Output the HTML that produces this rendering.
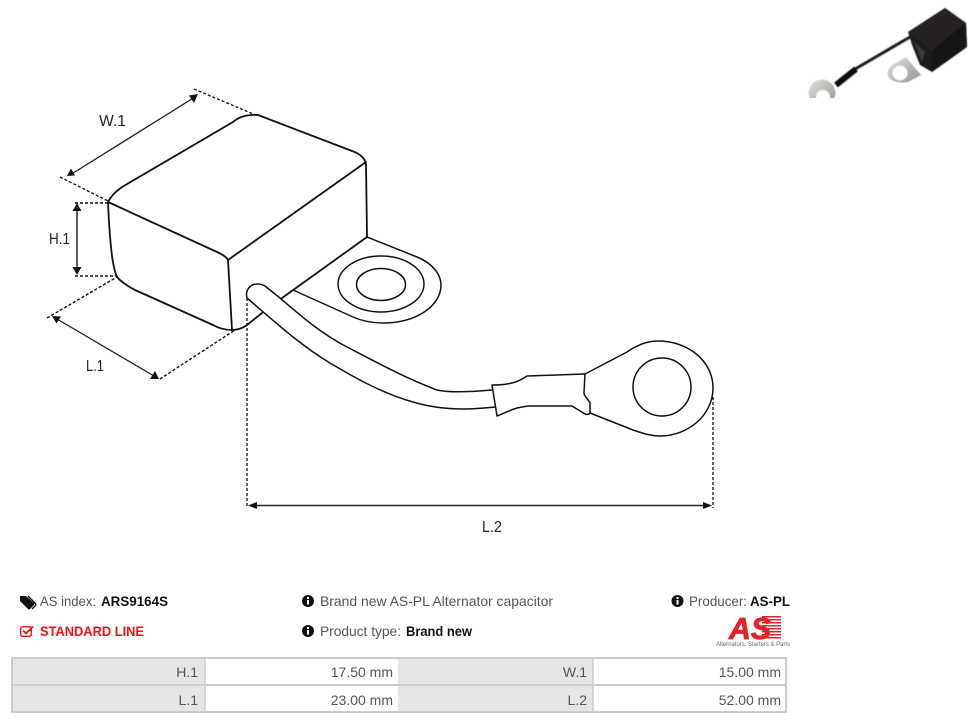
<!DOCTYPE html>
<html><head><meta charset="utf-8">
<style>
html,body{margin:0;padding:0;background:#fff;width:976px;height:724px;overflow:hidden}
svg{position:absolute;left:0;top:0}
</style></head>
<body>
<svg width="976" height="724" viewBox="0 0 976 724" xmlns="http://www.w3.org/2000/svg">
<defs>
<linearGradient id="met" x1="0" y1="0" x2="1" y2="1"><stop offset="0" stop-color="#e2e5e0"/><stop offset="1" stop-color="#8f948d"/></linearGradient>
<clipPath id="cp"><rect x="800" y="0" width="176" height="98"/></clipPath>
<filter id="bl" x="-5%" y="-5%" width="110%" height="110%"><feGaussianBlur stdDeviation="0.6"/></filter>
</defs>
<!-- photo -->
<g clip-path="url(#cp)"><g filter="url(#bl)">
<path d="M906 57L892 65Q885 72 889 78Q895 84 908 82L921 75Z" fill="url(#met)"/>
<circle cx="900" cy="73" r="7.500" fill="#fff"/>
<circle cx="822" cy="93" r="13.500" fill="url(#met)"/>
<circle cx="823" cy="97" r="7" fill="#fff"/>
<path d="M910 37L850 72" stroke="#1a1a1a" stroke-width="3" fill="none"/>
<path d="M856 69L836 85" stroke="#111" stroke-width="6" fill="none"/>
<path d="M908 32L945 8L966 23L967 47L932 72L920 65L912 45Z" fill="#1e1d1d"/>
<path d="M908 32L945 8L966 23L932 50Z" fill="#262424"/>
<path d="M932 50L966 23L967 47L932 72Z" fill="#161515"/>
<path d="M914 42L925 52L922 62Z" fill="#3a3a3a"/>
</g></g>
<!-- box -->
<g fill="none" stroke="#111" stroke-width="1.800" stroke-linejoin="round" stroke-linecap="round">
<path d="M108 202Q112 194 122 187L233 122Q242 114 258 115L352 151Q364 155 366 164L367 237"/>
<path d="M108 202L217 252Q226 256 228 260L366 162"/>
<path d="M108 202Q109 228 111 247Q113 268 117 277Q122 283 135 290L213 325Q222 330 232 330"/>
<path d="M228 260L232 330Q240 330 247 325L262 313"/>
<path d="M282 298L367 237"/>
</g>
<g fill="none" stroke="#111" stroke-width="1.500" stroke-linejoin="round">
<path d="M367 237L417 257C432 263 441 274 441 285C441 306 416 323 383 323C372 323 362 321 353 317L293 290"/>
<ellipse cx="381" cy="284" rx="43" ry="28"/>
<ellipse cx="381" cy="284.500" rx="24.500" ry="16"/>
<path d="M247 298C245 290 250 284 258 284C261 284 263 285 265 286L280 298C300 315 320 333 347 347C374 361 405 378 437 390C450 393 470 392 492 390"/>
<path d="M247 298C275 322 300 345 330 363C360 381 385 394 413 402C430 407 445 409 463 409C475 409 485 408 495 407"/>
<path d="M492 385L497 416C505 413 510 410 517 408C522 407 526 406 530 406L572 406L585 414C588 415 590 414 590 412L590 403C588 399 584 396 584 393L585 374L527 376C520 381 514 383 507 384C502 385 497 385 492 385Z"/>
<path d="M585 374L627 352C637 345 647 341 658 341C688 341 713 361 713 388C713 415 688 436 660 436C650 436 642 433 633 430L590 413"/>
<circle cx="662" cy="387" r="29"/>
</g>
<!-- dimensions -->
<g fill="none" stroke="#111" stroke-width="1.300" stroke-dasharray="3 2">
<path d="M60 177L108 201"/><path d="M194 89L258 116"/>
<path d="M75 203L108 203" stroke-width="1.500"/><path d="M75 276L117 276" stroke-width="1.500"/>
<path d="M47 318L117 277" stroke-width="1.400"/><path d="M160 379L235 330" stroke-width="1.400"/>
<path d="M247 298L247 508"/><path d="M713 397L713 508"/>
</g>
<g stroke="#222" stroke-width="1.300" fill="none">
<path d="M70 175L195 97"/><path d="M77 208L77 272" stroke-width="1.500"/><path d="M57 319L154 376"/><path d="M252 505.500L708 505.500" stroke-width="1.500"/>
</g>
<g fill="#111">
<path d="M67 176L75 175.500L71 168.500Z"/><path d="M198 94L189 95.500L194 103Z"/>
<path d="M77 203L72.500 211L81.500 211Z"/><path d="M77 275L72.500 267L81.500 267Z"/>
<path d="M52 316L61 316.500L56.500 323.500Z"/><path d="M159 379L150 379L155 371Z"/>
<path d="M248 505.500L257 502L257 509Z"/><path d="M712 505.500L703 502L703 509Z"/>
</g>
<g font-family="'Liberation Sans',sans-serif" font-size="16" fill="#222">
<text x="99" y="126" textLength="27" lengthAdjust="spacingAndGlyphs">W.1</text>
<text x="49" y="244" textLength="21" lengthAdjust="spacingAndGlyphs">H.1</text>
<text x="86" y="371" textLength="18" lengthAdjust="spacingAndGlyphs">L.1</text>
<text x="482" y="532" textLength="20" lengthAdjust="spacingAndGlyphs">L.2</text>
</g>
<!-- info rows -->
<g font-family="'Liberation Sans',sans-serif" font-size="14" fill="#555">
<path d="M20 596h6l8 7q1 1 0 2l-4 4q-1 1-2 0l-8-8v-5Z" fill="#111"/>
<path d="M28 596l7 7q1.500 1.500 0 3l-3 3" fill="none" stroke="#111" stroke-width="1.300"/>
<text x="40" y="606" textLength="56" lengthAdjust="spacingAndGlyphs">AS index:</text>
<text x="101" y="606" font-weight="700" fill="#111" textLength="67" lengthAdjust="spacingAndGlyphs">ARS9164S</text>
<rect x="20.700" y="626.700" width="10.600" height="9.600" rx="2" fill="none" stroke="#f01010" stroke-width="1.400"/>
<path d="M23 630.500L26 633.500L33 626.500" fill="none" stroke="#f01010" stroke-width="1.800"/>
<text x="40" y="636" font-weight="700" fill="#f01010" textLength="104" lengthAdjust="spacingAndGlyphs">STANDARD LINE</text>
<circle cx="308" cy="601" r="6" fill="#111"/><rect x="307" y="600" width="2" height="4.500" fill="#fff"/><rect x="307" y="597" width="2" height="2" fill="#fff"/>
<text x="320" y="606" textLength="233" lengthAdjust="spacingAndGlyphs">Brand new AS-PL Alternator capacitor</text>
<circle cx="308" cy="631" r="6" fill="#111"/><rect x="307" y="630" width="2" height="4.500" fill="#fff"/><rect x="307" y="627" width="2" height="2" fill="#fff"/>
<text x="320" y="636" textLength="81" lengthAdjust="spacingAndGlyphs">Product type:</text>
<text x="406" y="636" font-weight="700" fill="#111" textLength="66" lengthAdjust="spacingAndGlyphs">Brand new</text>
<circle cx="677.500" cy="601" r="6" fill="#111"/><rect x="676.500" y="600" width="2" height="4.500" fill="#fff"/><rect x="676.500" y="597" width="2" height="2" fill="#fff"/>
<text x="689" y="606" textLength="58" lengthAdjust="spacingAndGlyphs">Producer:</text>
<text x="750" y="606" font-weight="700" fill="#111" textLength="40" lengthAdjust="spacingAndGlyphs">AS-PL</text>
</g>
<!-- logo -->
<g fill="#e8202a">
<rect x="762" y="616" width="19" height="1.500"/><rect x="762" y="619" width="19" height="1.500"/><rect x="762" y="622" width="19" height="1.500"/><rect x="762" y="625" width="19" height="1.500"/><rect x="762" y="628" width="19" height="1.500"/><rect x="762" y="631" width="19" height="1.500"/><rect x="762" y="634" width="19" height="1.500"/><rect x="762" y="637" width="19" height="1.500"/>
</g>
<text x="729" y="639" font-family="'Liberation Sans',sans-serif" font-size="31" font-weight="700" font-style="italic" fill="#e8202a" stroke="#e8202a" stroke-width="0.800" textLength="42" lengthAdjust="spacingAndGlyphs">AS</text>
<text x="716" y="646" font-family="'Liberation Sans',sans-serif" font-size="6" fill="#666" textLength="74" lengthAdjust="spacingAndGlyphs">Alternators, Starters &amp; Parts</text>
<!-- table -->
<rect x="11" y="657" width="776" height="56" fill="#e5e5e5"/>
<rect x="205" y="658" width="193" height="54" fill="#fff"/>
<rect x="593" y="658" width="194" height="54" fill="#fff"/>
<rect x="12" y="658" width="774" height="54" fill="none" stroke="#ccc" stroke-width="2"/>
<path d="M12 685H786" stroke="#ccc" stroke-width="2"/>
<path d="M205 658V712M593 658V712" stroke="#ccc" stroke-width="1.500"/>
<g font-family="'Liberation Sans',sans-serif" font-size="14" fill="#555" text-anchor="end">
<text x="198" y="677">H.1</text><text x="393" y="677">17.50 mm</text>
<text x="587" y="677">W.1</text><text x="781" y="677">15.00 mm</text>
<text x="198" y="705">L.1</text><text x="393" y="705">23.00 mm</text>
<text x="587" y="705">L.2</text><text x="781" y="705">52.00 mm</text>
</g>
</svg>
</body></html>
